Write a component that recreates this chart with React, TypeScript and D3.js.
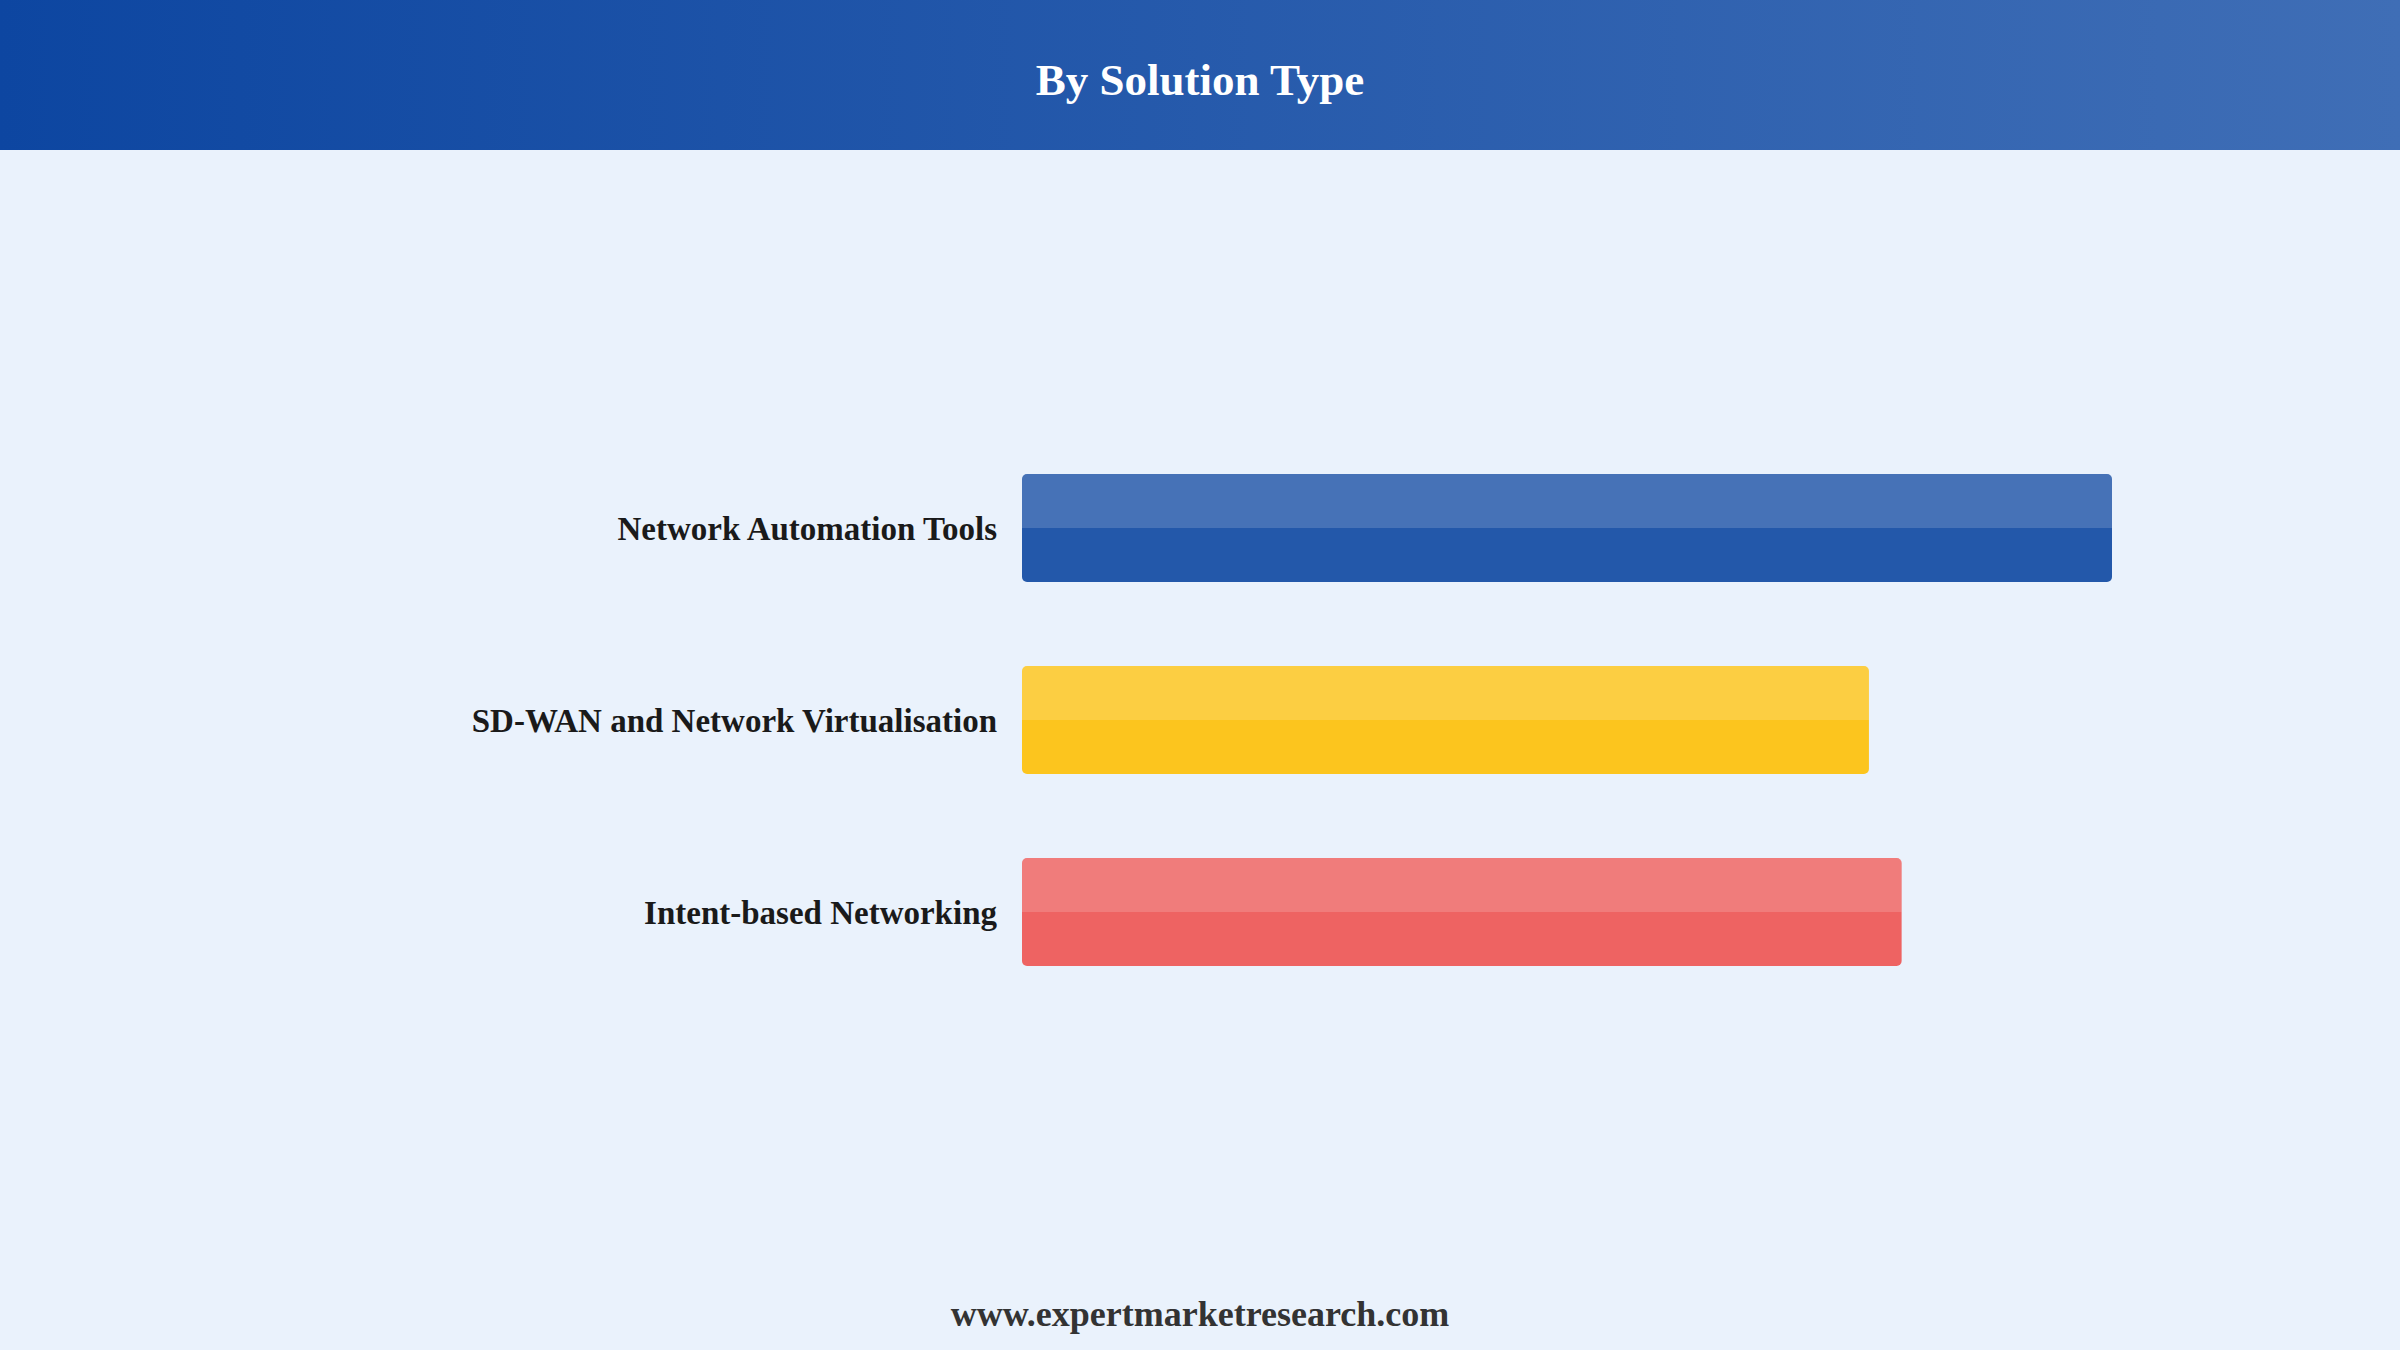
import { useMemo } from "react";
import * as d3 from "d3";

const width = 2400;
const height = 1350;
const headerHeight = 150;

const categories = [
  "Network Automation Tools",
  "SD-WAN and Network Virtualisation",
  "Intent-based Networking",
];
const values = [100, 77.7, 80.7];
const colors = ["#2358AA", "#FCC51E", "#EE6362"];

const title = "By Solution Type";
const footer = "www.expertmarketresearch.com";

const App = () => {
  const bars = useMemo(() => {
    const xScale = d3.scaleLinear().domain([0, 100]).range([1022, 2112]);
    const yScale = d3
      .scaleBand()
      .domain(categories)
      .range([390, 1050])
      .paddingInner(0.4375)
      .paddingOuter(0.4375);

    return categories.map((c, i) => ({
      label: c,
      x: xScale(0),
      y: yScale(c) as number,
      w: xScale(values[i]) - xScale(0),
      h: yScale.bandwidth(),
      fill: colors[i],
    }));
  }, []);

  return (
    <svg
      width={width}
      height={height}
      style={{ position: "absolute", top: 0, left: 0, display: "block" }}
      fontFamily="'Liberation Serif', 'Times New Roman', serif"
    >
      <defs>
        <linearGradient id="hdr" x1="0" x2="1" y1="0" y2="0">
          <stop offset="0%" stopColor="#0D46A1" />
          <stop offset="100%" stopColor="#3F6EB6" />
        </linearGradient>
      </defs>
      <rect x={0} y={0} width={width} height={height} fill="#EAF2FC" />
      <rect x={0} y={0} width={width} height={headerHeight} fill="url(#hdr)" />
      <text
        x={width / 2}
        y={95}
        textAnchor="middle"
        fill="#fff"
        fontSize={45}
        fontWeight="bold"
      >
        {title}
      </text>

      {bars.map((d, i) => (
        <g key={i}>
          <rect x={d.x} y={d.y} width={d.w} height={d.h} rx={5} fill={d.fill} />
          <path
            d={`M${d.x},${d.y + d.h / 2} V${d.y + 5} Q${d.x},${d.y} ${d.x + 5},${d.y} H${d.x + d.w - 5} Q${d.x + d.w},${d.y} ${d.x + d.w},${d.y + 5} V${d.y + d.h / 2} Z`}
            fill="#fff"
            fillOpacity={0.16}
          />
          <text
            x={d.x - 25}
            y={d.y + d.h / 2 + 12}
            textAnchor="end"
            fontSize={33}
            fontWeight="bold"
            fill="#1a1a1a"
          >
            {d.label}
          </text>
        </g>
      ))}

      <text
        x={width / 2}
        y={1326}
        textAnchor="middle"
        fill="#333"
        fontSize={36}
        fontWeight="bold"
      >
        {footer}
      </text>
    </svg>
  );
};

export default App;
